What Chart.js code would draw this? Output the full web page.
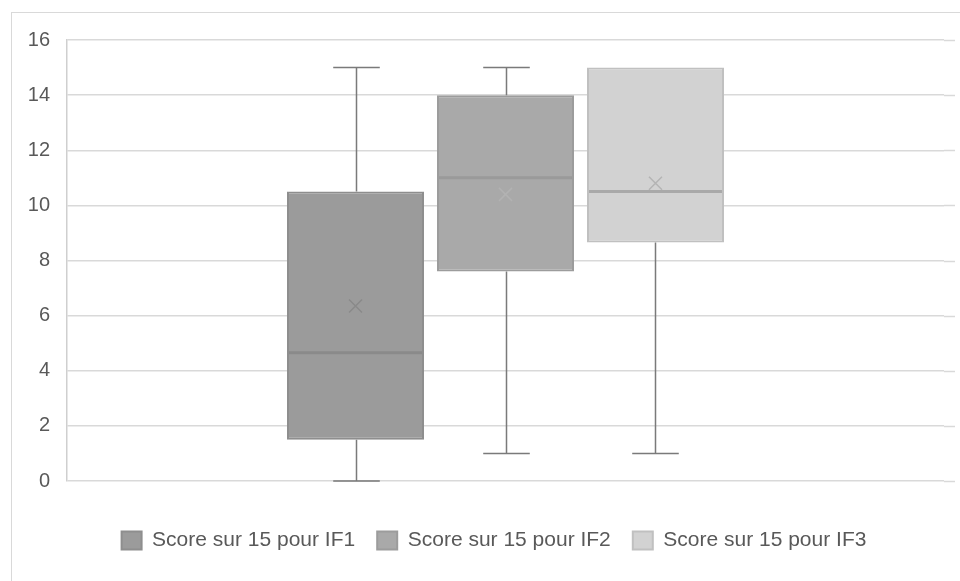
<!DOCTYPE html>
<html>
<head>
<meta charset="utf-8">
<script src="https://cdn.jsdelivr.net/npm/chart.js@4.4.0/dist/chart.umd.min.js"></script>
<style>
  html, body { margin: 0; padding: 0; background: #ffffff; }
  #wrap { position: relative; width: 960px; height: 581px; overflow: hidden; }
  #frame { position: absolute; left: 11px; top: 12px; width: 1000px; height: 620px;
           border: 1px solid #d9d9d9; box-sizing: border-box; }
  #c { position: absolute; left: 0; top: 0; }
</style>
</head>
<body>
<div id="wrap">
  <div id="frame"></div>
  <canvas id="c" width="960" height="581"></canvas>
</div>
<script>
// Box-plot statistics for each interrogation score (out of 15)
const categories = [''];
const seriesNames = ['Score sur 15 pour IF1', 'Score sur 15 pour IF2', 'Score sur 15 pour IF3'];
const minValues = [0, 1, 1];
const q1Values = [1.5, 7.6, 8.65];
const medianValues = [4.65, 11, 10.5];
const q3Values = [10.5, 14, 15];
const maxValues = [15, 15, 15];
const meanValues = [6.35, 10.4, 10.8];
const yTicks = [0, 2, 4, 6, 8, 10, 12, 14, 16];

const fillColors = ['#9b9b9b', '#a9a9a9', '#d2d2d2'];
const edgeColors = ['#8e8e8e', '#9c9c9c', '#c0c0c0'];
const medianColors = ['#8a8a8a', '#9a9a9a', '#a9a9a9'];
const meanColors = ['#8a8a8a', '#b2b2b2', '#b4b4b4'];
const whiskerColor = '#7a7a7a';
const gridColor = '#d9d9d9';
const textColor = '#595959';
const fontFamily = "'Liberation Sans', Arial, sans-serif";

// Horizontal grid lines continue a little past the plotting area on the right
const gridTail = {
  id: 'gridTail',
  beforeDatasetsDraw(chart) {
    const { ctx, chartArea, scales } = chart;
    ctx.save();
    ctx.strokeStyle = gridColor;
    ctx.lineWidth = 1.5;
    yTicks.forEach(v => {
      const y = Math.round(scales.y.getPixelForValue(v)) + 0.5;
      ctx.beginPath();
      ctx.moveTo(chartArea.right, y);
      ctx.lineTo(chartArea.right + 11, y);
      ctx.stroke();
    });
    ctx.restore();
  }
};

// Centre the legend row under the whole frame rather than the canvas
const legendShift = {
  id: 'legendShift',
  afterLayout(chart) {
    const lg = chart.legend;
    if (lg) { lg.left += 22; lg.right += 22; }
  }
};

// Whiskers, median line and mean cross on top of each floating box
const boxDetails = {
  id: 'boxDetails',
  afterDatasetsDraw(chart) {
    const { ctx, scales } = chart;
    const y = scales.y;
    ctx.save();
    chart.data.datasets.forEach((ds, i) => {
      const meta = chart.getDatasetMeta(i);
      const bar = meta.data[0];
      if (!bar) return;
      const cx = Math.round(bar.x) + 0.5;
      const half = bar.width / 2;
      const capHalf = bar.width * 0.17;
      const yMin = y.getPixelForValue(minValues[i]);
      const yMax = y.getPixelForValue(maxValues[i]);
      const yQ1 = y.getPixelForValue(q1Values[i]);
      const yQ3 = y.getPixelForValue(q3Values[i]);
      const yMed = y.getPixelForValue(medianValues[i]);
      const yMean = y.getPixelForValue(meanValues[i]);

      ctx.strokeStyle = whiskerColor;
      ctx.lineWidth = 1.5;
      ctx.beginPath();
      if (maxValues[i] > q3Values[i]) {
        ctx.moveTo(cx, yQ3);
        ctx.lineTo(cx, yMax);
        ctx.moveTo(cx - capHalf, yMax);
        ctx.lineTo(cx + capHalf, yMax);
      }
      if (minValues[i] < q1Values[i]) {
        ctx.moveTo(cx, yQ1);
        ctx.lineTo(cx, yMin);
        ctx.moveTo(cx - capHalf, yMin);
        ctx.lineTo(cx + capHalf, yMin);
      }
      ctx.stroke();

      ctx.strokeStyle = medianColors[i];
      ctx.lineWidth = 3;
      ctx.beginPath();
      ctx.moveTo(bar.x - half + 2, yMed);
      ctx.lineTo(bar.x + half - 2, yMed);
      ctx.stroke();

      const s = 6.5;
      ctx.strokeStyle = meanColors[i];
      ctx.lineWidth = 1.5;
      ctx.beginPath();
      ctx.moveTo(bar.x - s, yMean - s);
      ctx.lineTo(bar.x + s, yMean + s);
      ctx.moveTo(bar.x + s, yMean - s);
      ctx.lineTo(bar.x - s, yMean + s);
      ctx.stroke();
    });
    ctx.restore();
  }
};

const datasets = seriesNames.map((name, i) => ({
  label: name,
  data: [[q1Values[i], q3Values[i]]],
  backgroundColor: fillColors[i],
  borderColor: edgeColors[i],
  borderWidth: 2,
  borderSkipped: false,
  categoryPercentage: 0.5131,
  barPercentage: 0.9133
}));

new Chart(document.getElementById('c'), {
  type: 'bar',
  data: { labels: categories, datasets },
  options: {
    responsive: false,
    animation: false,
    layout: { padding: { left: 0, right: 16, top: 40, bottom: 20 } },
    plugins: {
      tooltip: { enabled: false },
      legend: {
        position: 'bottom',
        labels: {
          color: textColor,
          font: { family: fontFamily, size: 21 },
          boxWidth: 20,
          boxHeight: 18,
          padding: 22
        }
      }
    },
    scales: {
      x: {
        display: true,
        grid: { display: false },
        border: { display: false },
        ticks: { display: false },
        afterFit: s => { s.height = 27; }
      },
      y: {
        min: 0,
        max: 16,
        afterBuildTicks: s => { s.ticks = yTicks.map(v => ({ value: v })); },
        afterFit: s => { s.width = 67; },
        grid: { color: gridColor, lineWidth: 1.5, drawTicks: false },
        border: { display: true, color: '#cfcfcf', width: 1.5 },
        ticks: {
          color: textColor,
          padding: 17,
          font: { family: fontFamily, size: 20 }
        }
      }
    }
  },
  plugins: [gridTail, legendShift, boxDetails]
});
</script>
</body>
</html>
